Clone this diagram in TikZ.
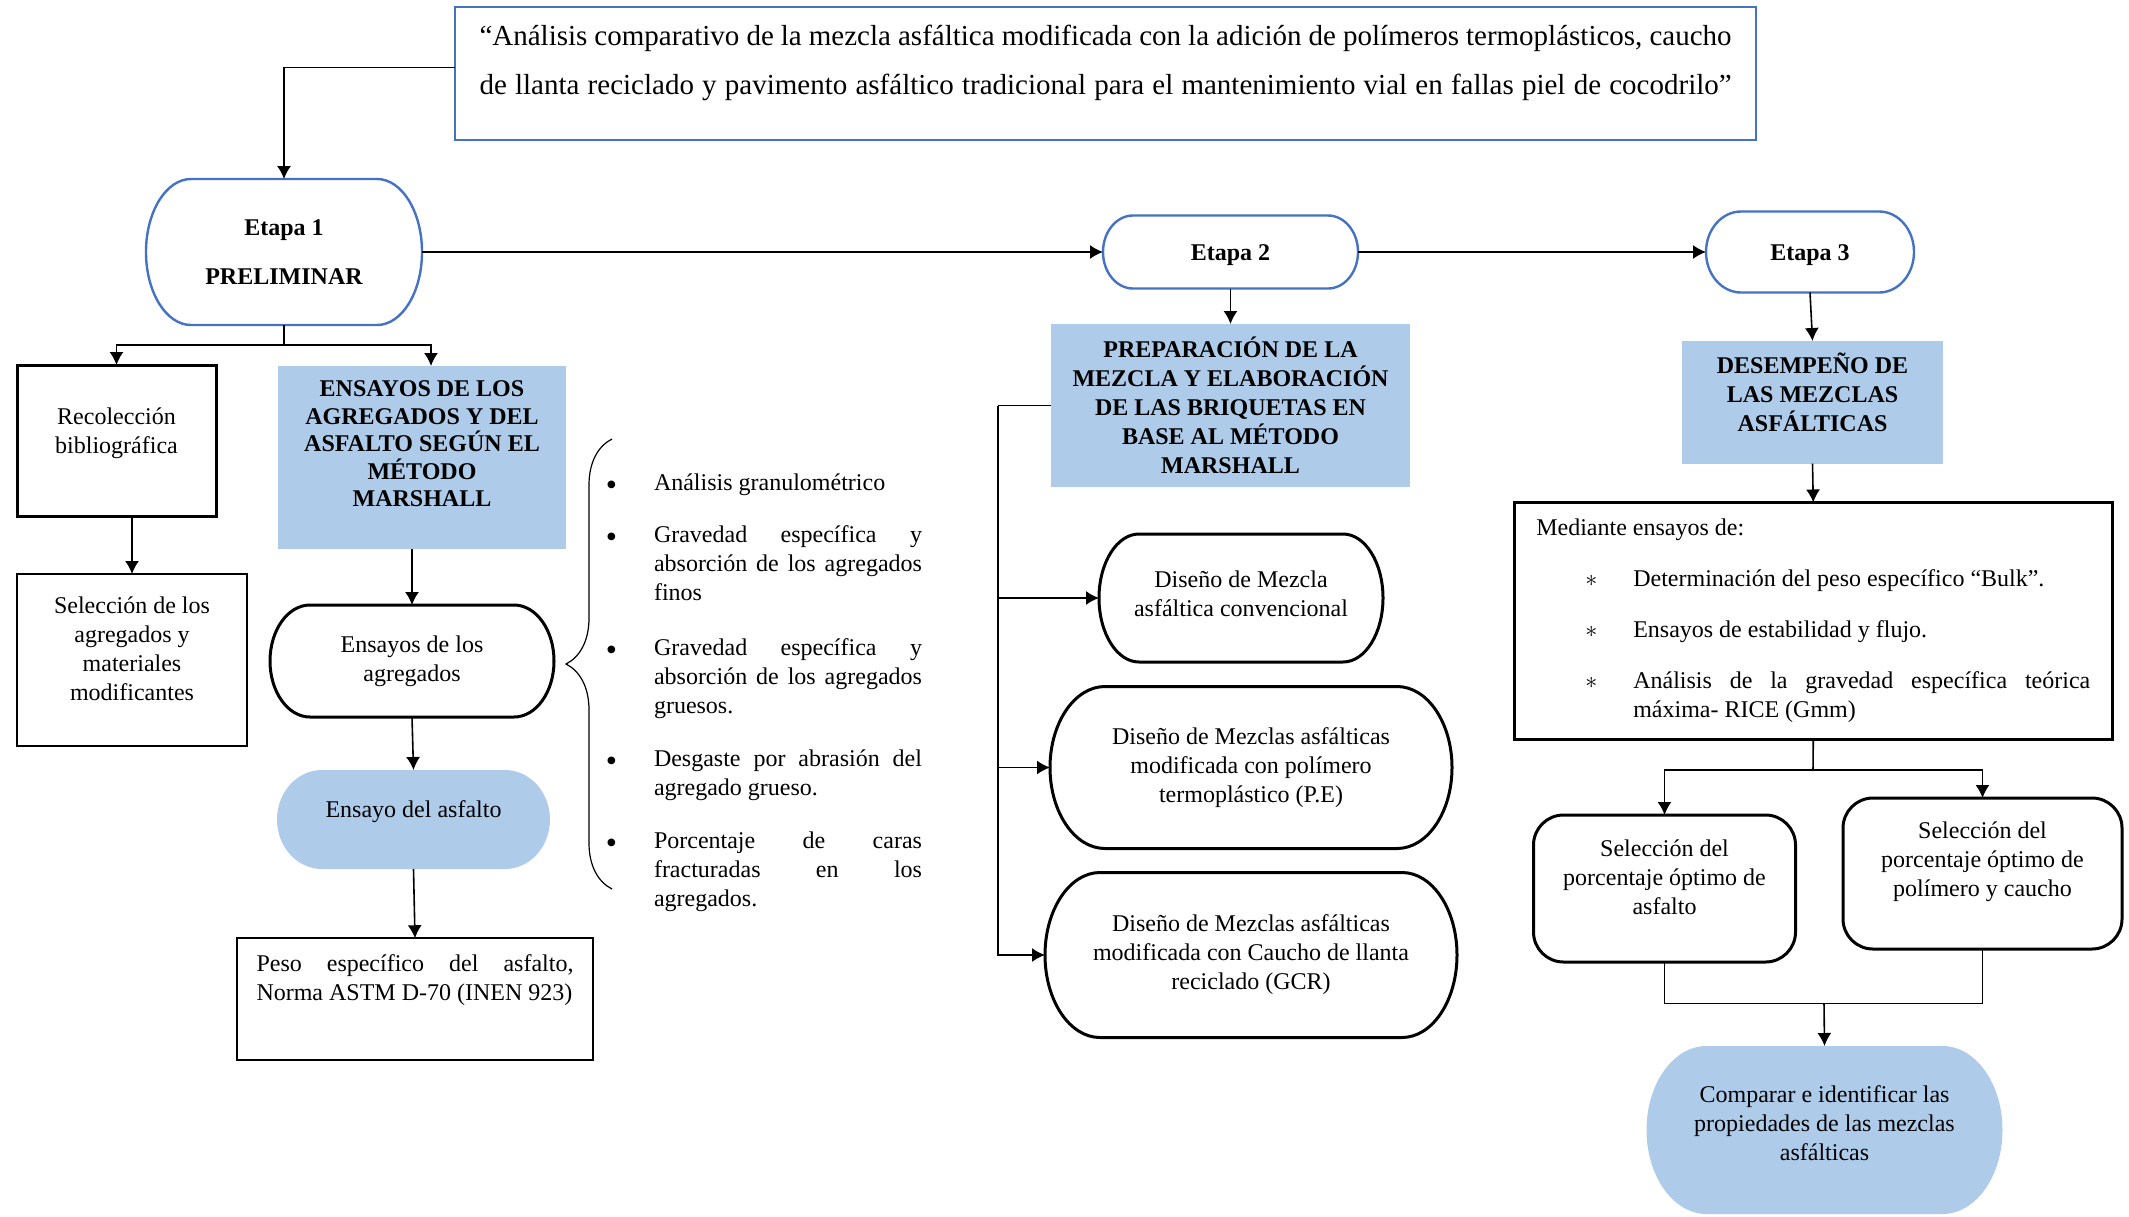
\documentclass[tikz,border=0pt]{standalone}
\usepackage{fontspec}
\setmainfont{Liberation Serif}
\usetikzlibrary{arrows.meta,decorations.pathreplacing,backgrounds}

\definecolor{azul}{RGB}{68,114,196}
\definecolor{celeste}{RGB}{174,204,234}

\hyphenpenalty=10000
\tolerance=9999
\hbadness=10000

% contorno de capsula: nodo, radio x, radio y
\newcommand{\capsula}[4][]{%
  \path[#1] ([xshift=#3]#2.north west) -- ([xshift=-#3]#2.north east)
    arc[start angle=90, end angle=-90, x radius=#3, y radius=#4]
    -- ([xshift=#3]#2.south west)
    arc[start angle=270, end angle=90, x radius=#3, y radius=#4] -- cycle;}
\newcommand{\punto}{\leavevmode\llap{\raisebox{-2.5pt}{\fontsize{16}{16}\selectfont\textbullet}\hspace{18.5pt}}}

\begin{document}
\begin{tikzpicture}[x=0.5pt, y=-0.5pt,
    every node/.style={font=\fontsize{12}{14.5}\selectfont, inner sep=0pt, outer sep=0pt, align=center},
    caja/.style={draw, rectangle},
    celda/.style={rectangle, fill=celeste, font=\fontsize{12}{14.5}\selectfont\bfseries},
    etapa/.style={font=\fontsize{12}{14.5}\selectfont\bfseries},
    redondo/.style={draw, rounded corners=15pt, line width=1.5pt},
    vineta/.style={anchor=base west, text width=134pt, align=justify},
    flecha/.style={-{Latex[length=6.5pt,width=7pt]}}]
  \useasboundingbox (0,0) rectangle (2129,1216);

  % titulo
  \node[draw=azul, line width=1.2pt, minimum width=650.5pt, minimum height=66.5pt] (titulo) at (1105.5,73.5)
    {\parbox[c][66.5pt][t]{626pt}{\fontsize{14.5}{24.5}\selectfont\vspace*{9pt}%
      \makebox[626pt][s]{“Análisis comparativo de la mezcla asfáltica modificada con la adición de polímeros termoplásticos, caucho}\\
      \makebox[626pt][s]{de llanta reciclado y pavimento asfáltico tradicional para el mantenimiento vial en fallas piel de cocodrilo”}}};

  % etapas
  \node[etapa, minimum width=138pt, minimum height=73pt] (etapa1) at (284,252) {Etapa 1\\[10pt]PRELIMINAR};
  \node[etapa, text height=11pt, text depth=2.6pt, minimum width=127.5pt, minimum height=36.5pt] (etapa2) at (1230.5,252) {Etapa 2};
  \node[etapa, text height=11pt, text depth=2.6pt, minimum width=104pt, minimum height=40.5pt] (etapa3) at (1810,252) {Etapa 3};

  % etapa 1
  \node[caja, line width=1.5pt, minimum width=99.5pt, minimum height=75.5pt] (recoleccion) at (116.5,440.5)
    {Recolección\\bibliográfica\\[-4.5pt]\mbox{}};
  \node[caja, line width=1.2pt, minimum width=115pt, minimum height=86pt] (materiales) at (132,660)
    {Selección de los\\agregados y\\materiales\\modificantes\\[-3.5pt]\mbox{}};
  \node[celda, font=\fontsize{12}{13.75}\selectfont\bfseries, minimum width=143.75pt, minimum height=91.5pt] (ensayos) at (422,457.5)
    {ENSAYOS DE LOS\\AGREGADOS Y DEL\\ASFALTO SEGÚN EL\\MÉTODO\\MARSHALL\\\mbox{}};
  \node[minimum width=142pt, minimum height=56pt] (agregados) at (412,661) {Ensayos de los\\agregados};
  \node[minimum width=136.5pt, minimum height=49.5pt] (asfalto) at (413.5,819.5) {Ensayo del asfalto\\[-4pt]\mbox{}};
  \node[caja, line width=1pt, minimum width=177.75pt, minimum height=60.75pt, text width=158.5pt, align=justify] (peso) at (415,999)
    {Peso específico del asfalto,\linebreak Norma ASTM D-70 (INEN 923)\par\vspace{7pt}\mbox{}};

  \node[vineta] (item1) at (654,490) {\punto Análisis granulométrico};
  \node[vineta] (item2) at (654,542) {\punto Gravedad específica y\linebreak absorción de los agregados\linebreak finos};
  \node[vineta] (item3) at (654,655) {\punto Gravedad específica y\linebreak absorción de los agregados\linebreak gruesos.};
  \node[vineta] (item4) at (654,766) {\punto Desgaste por abrasión del\linebreak agregado grueso.};
  \node[vineta] (item5) at (654,848) {\punto Porcentaje de caras\linebreak fracturadas en los\linebreak agregados.};

  % etapa 2
  \node[celda, minimum width=179.5pt, minimum height=81.5pt] (preparacion) at (1230.5,405.5)
    {PREPARACIÓN DE LA\\MEZCLA Y ELABORACIÓN\\DE LAS BRIQUETAS EN\\BASE AL MÉTODO\\MARSHALL};
  \node[minimum width=142pt, minimum height=64pt] (diseno1) at (1241,598)
    {Diseño de Mezcla\\asfáltica convencional\\[-9.75pt]\mbox{}};
  \node[minimum width=201pt, minimum height=81pt] (diseno2) at (1251,767.5)
    {Diseño de Mezclas asfálticas\\modificada con polímero\\termoplástico (P.E)};
  \node[minimum width=206pt, minimum height=82.5pt] (diseno3) at (1251,955)
    {Diseño de Mezclas asfálticas\\modificada con Caucho de llanta\\reciclado (GCR)};

  % etapa 3
  \node[celda, minimum width=130.5pt, minimum height=61.3pt] (desempeno) at (1812.5,402.3)
    {DESEMPEÑO DE\\LAS MEZCLAS\\ASFÁLTICAS\\[-4.5pt]\mbox{}};
  \node[caja, line width=1.5pt, minimum width=299.25pt, minimum height=118.5pt, text width=277pt, align=justify] (mediante) at (1813.25,621)
    {Mediante ensayos de:\par\vspace{11pt}
     \leftskip=48.5pt
     \leavevmode\llap{$\ast$\hspace{18pt}}Determinación del peso específico “Bulk”.\par\vspace{11pt}
     \leavevmode\llap{$\ast$\hspace{18pt}}Ensayos de estabilidad y flujo.\par\vspace{11pt}
     \leavevmode\llap{$\ast$\hspace{18pt}}Análisis de la gravedad específica teórica\linebreak máxima- RICE (Gmm)\par};
  \node[redondo, minimum width=131pt, minimum height=73.5pt] (optasfalto) at (1664.5,888.5)
    {Selección del\\porcentaje óptimo de\\asfalto\\[-3.5pt]\mbox{}};
  \node[redondo, minimum width=139.5pt, minimum height=75.5pt] (optpolimero) at (1982.5,873.5)
    {Selección del\\porcentaje óptimo de\\polímero y caucho\\\mbox{}};
  \node[minimum width=178pt, minimum height=84pt] (comparar) at (1824.5,1130)
    {Comparar e identificar las\\propiedades de las mezclas\\asfálticas\\[-7.7pt]\mbox{}};

  \begin{scope}[on background layer]
    \capsula[draw=azul, line width=1.2pt]{etapa1}{22.5pt}{36.5pt}
    \capsula[draw=azul, line width=1.2pt]{etapa2}{15pt}{18.25pt}
    \capsula[draw=azul, line width=1.2pt]{etapa3}{17.5pt}{20.25pt}
    \capsula[draw, line width=1.5pt]{agregados}{20pt}{28pt}
    \capsula[fill=celeste]{asfalto}{22.5pt}{24.75pt}
    \capsula[draw, line width=1.5pt]{diseno1}{20pt}{32pt}
    \capsula[draw, line width=1.5pt]{diseno2}{27.5pt}{40.5pt}
    \capsula[draw, line width=1.5pt]{diseno3}{27.5pt}{41.25pt}
    \capsula[fill=celeste]{comparar}{30pt}{42pt}
  \end{scope}

  \coordinate (e1) at (284,345);
  \coordinate (p2) at (998,405.5);
  \coordinate (m1) at (1813,770);
  \coordinate (j1) at (1824,1003.5);

  \begin{scope}[line width=0.8pt]
    \draw[flecha] ([yshift=3pt]titulo.west) -| (etapa1.north);
    \draw[flecha] (etapa1.east) -- (etapa2.west);
    \draw[flecha] (etapa2.east) -- (etapa3.west);
    \draw (etapa1.south) -- (e1);
    \draw[flecha] (e1) -| (recoleccion.north);
    \draw[flecha] (e1) -| ([xshift=4.5pt]ensayos.north);
    \draw[flecha] (recoleccion.south -| materiales.north) -- (materiales.north);
    \draw[flecha] (ensayos.south -| agregados.north) -- (agregados.north);
    \draw[flecha] (agregados.south) -- (asfalto.north);
    \draw[flecha] (asfalto.south) -- (peso.north);
    \draw[line width=0.6pt, decorate, decoration={brace, amplitude=23pt}] (612,889) -- (612,439);
    \draw[flecha] (etapa2.south) -- (preparacion.north);
    \draw (preparacion.west) -- (p2);
    \draw[flecha] (p2) |- (diseno1.west);
    \draw[flecha] (p2) |- (diseno2.west);
    \draw[flecha] (p2) |- (diseno3.west);
    \draw[flecha] (etapa3.south) -- (desempeno.north);
    \draw[flecha] (desempeno.south) -- (mediante.north);
    \draw (mediante.south) -- (m1);
    \draw[flecha] (m1) -| (optasfalto.north);
    \draw[flecha] (m1) -| (optpolimero.north);
    \draw (optasfalto.south) |- (j1) -| (optpolimero.south);
    \draw[flecha] (j1) -- (comparar.north);
  \end{scope}
\end{tikzpicture}
\end{document}
